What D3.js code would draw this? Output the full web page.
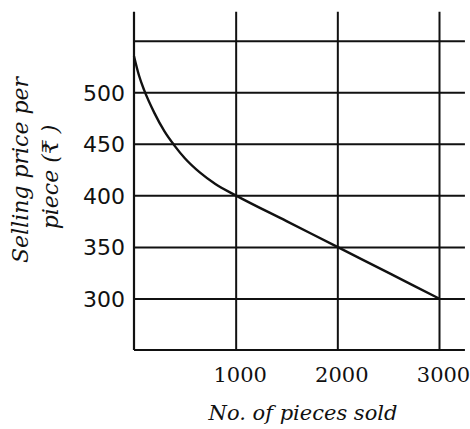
<!DOCTYPE html>
<html><head><meta charset="utf-8">
<script src="https://cdn.jsdelivr.net/npm/d3@7/dist/d3.min.js"></script>
<style>body{margin:0;background:#fff}svg{display:block}</style>
</head><body>
<svg id="c" width="470" height="429"></svg>
<script>
const pieces = [0, 50, 100, 200, 300, 400, 500, 650, 800, 1000, 1500, 2000, 2500, 3000];
const prices = [535, 516, 502, 480, 462, 448, 436, 422, 411, 400, 375, 350, 325, 300];
const yTicks = [300, 350, 400, 450, 500];
const yGrid = [300, 350, 400, 450, 500, 550];
const xTicks = [1000, 2000, 3000];
const xTitle = "No. of pieces sold";
const yTitle1 = "Selling price per";
const yTitle2 = "piece (₹ )";

const svg = d3.select("#c");
const x = d3.scaleLinear().domain([0, 3000]).range([134, 439]);
const y = d3.scaleLinear().domain([250, 550]).range([350, 40.7]);
const xEnd = 3255, yTop = 578;

// horizontal grid
svg.append("g").attr("transform", `translate(${x(0)},0)`)
  .call(d3.axisRight(y).tickValues(yGrid).tickSize(x(xEnd) - x(0)).tickFormat(""))
  .call(g => g.select(".domain").remove())
  .selectAll("line").attr("stroke", "#111").attr("stroke-width", 2);

// vertical grid
svg.append("g").attr("transform", `translate(0,${y(250)})`)
  .call(d3.axisTop(x).tickValues(xTicks).tickSize(y(250) - y(yTop)).tickFormat(""))
  .call(g => g.select(".domain").remove())
  .selectAll("line").attr("stroke", "#111").attr("stroke-width", 2);

// axes lines
svg.append("line").attr("x1", x(0)).attr("x2", x(0)).attr("y1", y(yTop)).attr("y2", y(250))
  .attr("stroke", "#111").attr("stroke-width", 2.2);
svg.append("line").attr("x1", x(0)).attr("x2", x(xEnd)).attr("y1", y(250)).attr("y2", y(250))
  .attr("stroke", "#111").attr("stroke-width", 2.2);

// y tick labels
svg.append("g").attr("transform", `translate(${x(0) - 9},0)`)
  .call(d3.axisLeft(y).tickValues(yTicks).tickSize(0).tickPadding(0))
  .call(g => g.select(".domain").remove())
  .selectAll("text").attr("font-family", "DejaVu Sans").attr("font-size", 22)
  .attr("fill", "#111").attr("dy", "0.36em");

// x tick labels
svg.append("g").attr("transform", `translate(4,${y(250)})`)
  .call(d3.axisBottom(x).tickValues(xTicks).tickSize(0).tickPadding(0).tickFormat(d3.format("d")))
  .call(g => g.select(".domain").remove())
  .selectAll("text").attr("font-family", "DejaVu Serif").attr("font-size", 21)
  .attr("fill", "#111").attr("dy", null).attr("y", 32);

// curve
svg.append("path").datum(pieces.map((p, i) => [p, prices[i]]))
  .attr("fill", "none").attr("stroke", "#111").attr("stroke-width", 2.4)
  .attr("d", d3.line().x(d => x(d[0])).y(d => y(d[1])).curve(d3.curveMonotoneX));

// titles
const tf = "DejaVu Serif";
svg.append("text").attr("x", 303).attr("y", 420).attr("text-anchor", "middle")
  .attr("font-family", tf).attr("font-style", "italic").attr("font-size", 21)
  .attr("fill", "#111").text(xTitle);
svg.append("text").attr("transform", "translate(28,170) rotate(-90)").attr("text-anchor", "middle")
  .attr("font-family", tf).attr("font-style", "italic").attr("font-size", 22)
  .attr("fill", "#111").text(yTitle1);
svg.append("text").attr("transform", "translate(58,177) rotate(-90)").attr("text-anchor", "middle")
  .attr("font-family", tf).attr("font-style", "italic").attr("font-size", 22)
  .attr("fill", "#111").text(yTitle2);
</script>
</body></html>
